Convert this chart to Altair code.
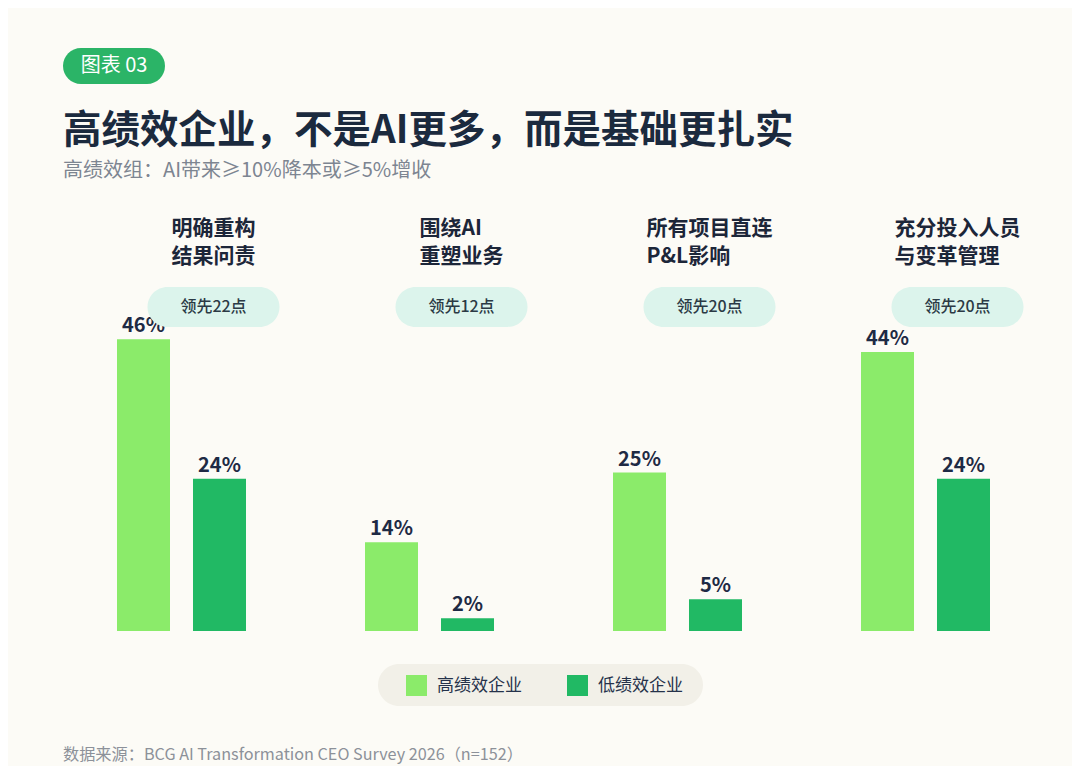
import altair as alt
import pandas as pd

FONT = "Noto Sans CJK SC"

# data
groups = ["明确重构结果问责", "围绕AI重塑业务", "所有项目直连P&L影响", "充分投入人员与变革管理"]
line1 = ["明确重构", "围绕AI", "所有项目直连", "充分投入人员"]
line2 = ["结果问责", "重塑业务", "P&L影响", "与变革管理"]
label_ems = [4, 4, 6, 6]  # widest line, in characters
high = [46, 14, 25, 44]
low = [24, 2, 5, 24]
lead = [22, 12, 20, 20]
series = ["高绩效企业", "低绩效企业"]
colors = ["#8BEB6A", "#21B964"]

rows = []
for g, h, l in zip(groups, high, low):
    rows.append({"group": g, "series": series[0], "value": h, "label": f"{h}%"})
    rows.append({"group": g, "series": series[1], "value": l, "label": f"{l}%"})
bar_df = pd.DataFrame(rows)
lead_df = pd.DataFrame({"group": groups, "lead": [f"领先{v}点" for v in lead]})
one = pd.DataFrame({"a": [0]})

x_scale = alt.Scale(domain=groups, range=[49.5, 1041.5], paddingInner=0, paddingOuter=0)
y_scale = alt.Scale(domain=[-21.29, 98.26], nice=False, zero=False)
off_scale = alt.Scale(domain=series, paddingInner=0.3026, paddingOuter=0.783)
X = alt.X("group:N", scale=x_scale, axis=None)

legend_bg = alt.Chart(one).mark_rect(color="#F2F0E8", cornerRadius=21).encode(
    x=alt.value(370), x2=alt.value(695), y=alt.value(656), y2=alt.value(698)
)

bars = alt.Chart(bar_df).mark_bar().encode(
    x=X,
    xOffset=alt.XOffset("series:N", scale=off_scale, sort=series),
    y=alt.Y("value:Q", scale=y_scale, axis=None),
    y2=alt.datum(0),
    color=alt.Color(
        "series:N",
        scale=alt.Scale(domain=series, range=colors),
        legend=alt.Legend(
            title=None, orient="none", legendX=398, legendY=667, direction="horizontal",
            symbolType="square", symbolSize=441, symbolStrokeWidth=0, symbolOpacity=1,
            labelFont=FONT, labelFontSize=17, labelColor="#25324A", labelOffset=10,
            columnPadding=45, padding=0,
        ),
    ),
)

values = alt.Chart(bar_df).mark_text(
    baseline="bottom", dy=-3, font=FONT, fontSize=20, fontWeight=600, color="#1E2A44"
).encode(
    x=X,
    xOffset=alt.XOffset("series:N", scale=off_scale, sort=series),
    y=alt.Y("value:Q", scale=y_scale, axis=None),
    text="label:N",
)

pills = alt.Chart(lead_df).mark_bar(width=132, cornerRadius=20, xOffset=32, color="#DCF4EC").encode(
    x=X, y=alt.value(279), y2=alt.value(319)
)
pill_text = alt.Chart(lead_df).mark_text(
    dx=32, font=FONT, fontSize=16, fontWeight=500, color="#2B3A45"
).encode(x=X, y=alt.value(299), text="lead:N")

cat_layers = []
for g, a, b, em in zip(groups, line1, line2, label_ems):
    d = pd.DataFrame({"group": [g], "l1": [a], "l2": [b]})
    for field, yy in (("l1", 221), ("l2", 249)):
        cat_layers.append(
            alt.Chart(d).mark_text(
                align="left", baseline="middle", dx=32 - em * 21 / 2,
                font=FONT, fontSize=21, fontWeight="bold", color="#1C2639",
            ).encode(x=X, y=alt.value(yy), text=f"{field}:N")
        )

badge = alt.Chart(one).mark_rect(color="#2BB467", cornerRadius=18).encode(
    x=alt.value(55), x2=alt.value(157), y=alt.value(40), y2=alt.value(76)
)
badge_text = alt.Chart(one).mark_text(
    text="图表 03", font=FONT, fontSize=20, color="white", baseline="middle"
).encode(x=alt.value(106), y=alt.value(58))

title = alt.Chart(one).mark_text(
    text="高绩效企业，不是AI更多，而是基础更扎实", font=FONT, fontSize=38.5, fontWeight="bold",
    color="#1B2A3E", align="left", baseline="middle",
).encode(x=alt.value(55), y=alt.value(123))
subtitle = alt.Chart(one).mark_text(
    text="高绩效组：AI带来≥10%降本或≥5%增收", font=FONT, fontSize=20,
    color="#7D8591", align="left", baseline="middle",
).encode(x=alt.value(55), y=alt.value(163))
source = alt.Chart(one).mark_text(
    text="数据来源：BCG AI Transformation CEO Survey 2026（n=152）", font=FONT, fontSize=16.2,
    color="#8C9199", align="left", baseline="middle",
).encode(x=alt.value(55), y=alt.value(747))

chart = alt.layer(
    legend_bg, bars, values, pills, pill_text, *cat_layers,
    badge, badge_text, title, subtitle, source,
).properties(
    width=1064, height=758, padding=0, autosize=alt.AutoSizeParams(type="none"),
    background="#FCFBF6",
).configure_view(stroke=None)

chart.save("out.html", embed_options={"renderer": "svg", "actions": False})
